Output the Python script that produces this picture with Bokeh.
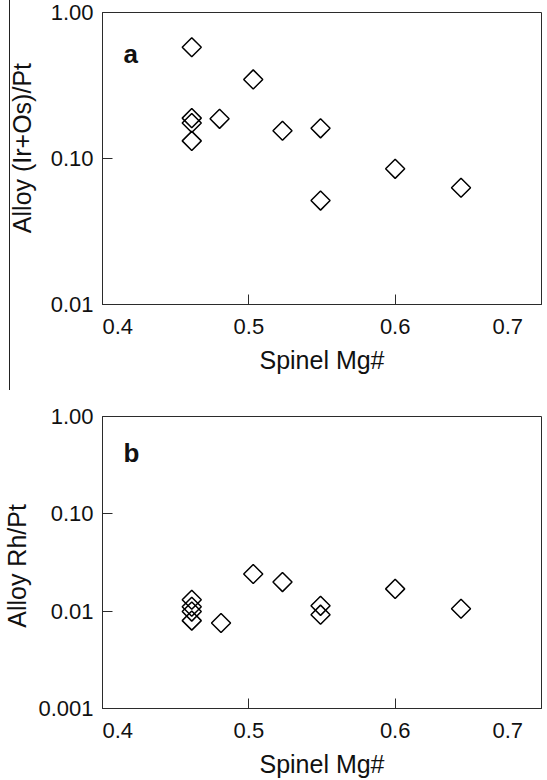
import numpy as np
from bokeh.plotting import figure
from bokeh.layouts import column
from bokeh.models import FixedTicker, Range1d, Label, Div
from bokeh.embed import file_html
from bokeh.resources import INLINE

# ---- data ----
mg_a = [0.461, 0.461, 0.461, 0.461, 0.480, 0.503, 0.523, 0.549, 0.549, 0.600, 0.645]
ir_os_pt = [0.578, 0.189, 0.175, 0.132, 0.187, 0.348, 0.155, 0.161, 0.0515, 0.085, 0.063]

mg_b = [0.461, 0.461, 0.461, 0.461, 0.481, 0.503, 0.523, 0.549, 0.549, 0.600, 0.645]
rh_pt = [0.0131, 0.0111, 0.0099, 0.0080, 0.00755, 0.0241, 0.0199, 0.01135, 0.0092, 0.01695, 0.0106]

x_ticks = [0.4, 0.5, 0.6, 0.7]
x_labels = ["0.4", "0.5", "0.6", "0.7"]
ya_ticks = [0.01, 0.1, 1.0]
ya_labels = ["0.01", "0.10", "1.00"]
yb_ticks = [0.001, 0.01, 0.1, 1.0]
yb_labels = ["0.001", "0.01", "0.10", "1.00"]

FONT = "Liberation Sans"
INK = "#2b2b2b"
NB = "\u00a0"


def make_panel(xs, ys, yticks, ylabels, yrange, ytitle, letter, bt, bb,
               letter_y, ytitle_std):
    p = figure(width=547, height=390, y_axis_type="log",
               x_range=Range1d(0.4, 0.7), y_range=Range1d(*yrange),
               output_backend="svg", toolbar_location=None,
               min_border_left=101, min_border_right=6,
               min_border_top=bt, min_border_bottom=bb)
    p.grid.visible = False
    p.outline_line_color = INK
    p.outline_line_width = 1
    p.background_fill_color = "white"
    p.border_fill_color = None

    p.xaxis.ticker = FixedTicker(ticks=x_ticks, minor_ticks=[])
    ov = {t: l for t, l in zip(x_ticks, x_labels)}
    ov[x_ticks[0]] = NB * 5 + x_labels[0]
    ov[x_ticks[-1]] = x_labels[-1] + NB * 4
    p.xaxis.major_label_overrides = ov
    p.xaxis.axis_label = "Spinel Mg#"

    p.yaxis.ticker = FixedTicker(ticks=yticks, minor_ticks=[])
    p.yaxis.major_label_overrides = {t: l for t, l in zip(yticks, ylabels)}
    p.yaxis.axis_label = ytitle

    for ax in (p.xaxis, p.yaxis):
        ax.major_tick_in = 10
        ax.major_tick_out = 0
        ax.minor_tick_in = 0
        ax.minor_tick_out = 0
        ax.major_tick_line_color = INK
        ax.axis_line_color = INK
        ax.major_label_text_font = FONT
        ax.major_label_text_font_size = "22px"
        ax.major_label_text_color = "#111111"
        ax.axis_label_text_font = FONT
        ax.axis_label_text_font_size = "25px"
        ax.axis_label_text_font_style = "normal"
        ax.axis_label_text_color = "#111111"
    p.xaxis.major_label_standoff = 9
    p.xaxis.axis_label_standoff = 4
    p.yaxis.major_label_standoff = 9
    p.yaxis.axis_label_standoff = ytitle_std

    p.scatter(xs, ys, marker="square", angle=np.pi / 4, size=13.5,
              fill_color=None, line_color="black", line_width=1.5)

    p.add_layout(Label(x=21, y=letter_y, x_units="screen", y_units="screen",
                       text=letter, text_font=FONT, text_font_size="26px",
                       text_font_style="bold", text_color="#111111",
                       text_baseline="alphabetic", text_align="left"))
    return p


pa = make_panel(mg_a, ir_os_pt, ya_ticks, ya_labels, (0.01, 1.0),
                NB * 3 + "Alloy (Ir+Os)/Pt", "a", 12, 86, 251, 12)
pb = make_panel(mg_b, rh_pt, yb_ticks, yb_labels, (0.001, 1.0),
                "Alloy Rh/Pt" + NB, "b", 26, 71, 256, 4)

# thin decorative rule at the far left of the upper panel, drawn behind it
rule = Div(width=11, height=390, margin=(0, 0, -390, 0),
           text='<div style="width:10px;height:390px;border-right:1px solid #222;"></div>')

layout = column(rule, pa, pb, spacing=0)
open("out.html", "w").write(file_html(layout, INLINE))
